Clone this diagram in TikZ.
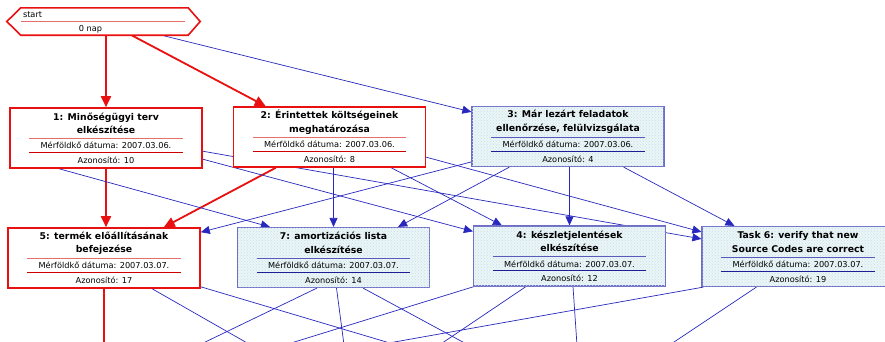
\documentclass[tikz,border=0pt]{standalone}
\usepackage{fontspec}
\setmainfont{DejaVu Sans}
\usetikzlibrary{arrows.meta, calc, backgrounds, patterns}

\definecolor{critred}{RGB}{232,16,16}
\definecolor{sepredA}{RGB}{232,110,110}
\definecolor{sepredB}{RGB}{205,0,0}
\definecolor{normline}{RGB}{110,110,200}
\definecolor{sepblueA}{RGB}{90,90,190}
\definecolor{sepblueB}{RGB}{30,30,150}
\definecolor{normfill}{RGB}{234,245,247}
\definecolor{normdots}{RGB}{200,222,228}
\definecolor{depblue}{RGB}{40,40,190}

% task box: name, centre, kind (crit/norm), title, date, id
\newcommand{\taskbox}[6]{
  \node[#3box] (#1) at (#2) {};
  \node[titletext] at ($(#1.north)+(0,16)$) {#4};
  \draw[#3sepa] ($(#1.north west)+(20,31)$) -- ($(#1.north east)+(-20,31)$);
  \node[infotext] at ($(#1.north)+(0,38.5)$) {Mérföldkő dátuma: #5};
  \draw[#3sepb] ($(#1.north west)+(20,45)$) -- ($(#1.north east)+(-20,45)$);
  \node[infotext] at ($(#1.north)+(0,53)$) {Azonosító: #6};
}

\begin{document}
\begin{tikzpicture}[x=1pt, y=-1pt,
  critbox/.style={draw=critred, line width=1.6pt, fill=white, minimum width=192pt, minimum height=60pt, inner sep=0pt},
  normbox/.style={draw=normline, line width=1.2pt, fill=normfill, postaction={pattern=crosshatch dots, pattern color=normdots}, minimum width=192pt, minimum height=60pt, inner sep=0pt},
  critsepa/.style={draw=sepredA, line width=0.8pt},
  critsepb/.style={draw=sepredB, line width=0.8pt},
  normsepa/.style={draw=sepblueA, line width=0.8pt},
  normsepb/.style={draw=sepblueB, line width=0.8pt},
  titletext/.style={font=\bfseries\fontsize{9.3}{13.5}\selectfont, align=center, inner sep=0pt},
  infotext/.style={font=\fontsize{8.2}{10}\selectfont, inner sep=0pt},
  crit/.style={draw=critred, line width=1.8pt, -{Triangle[length=11pt,width=10pt]}},
  dep/.style={draw=depblue, line width=0.7pt, -{Triangle[length=9pt,width=8pt]}}]
  \useasboundingbox (0,0) rectangle (885,341);

  % Start milestone
  \node[minimum width=193pt, minimum height=27pt, inner sep=0pt] (start) at (103.5,21.5) {};
  \filldraw[draw=critred, fill=white, line width=1.6pt] (start.west) -- ($(start.north west)+(14,0)$) -- ($(start.north east)+(-12,0)$) -- (start.east) -- ($(start.south east)+(-12,0)$) -- ($(start.south west)+(14,0)$) -- cycle;
  \draw[critsepa] ($(start.west)+(14,0)$) -- ($(start.east)+(-15,0)$);
  \node[infotext, anchor=west] at ($(start.west)+(16,-7)$) {start};
  \node[infotext] at ($(start.south)+(-13,-6)$) {0 nap};

  % First row
  \taskbox{b1}{106,138}{crit}{1: Minőségügyi terv\\elkészítése}{2007.03.06.}{10}
  \taskbox{b2}{329.5,137}{crit}{2: Érintettek költségeinek\\meghatározása}{2007.03.06.}{8}
  \taskbox{b3}{568,136.5}{norm}{3: Már lezárt feladatok\\ellenőrzése, felülvizsgálata}{2007.03.06.}{4}

  % Second row
  \taskbox{b5}{104,258}{crit}{5: termék előállításának\\befejezése}{2007.03.07.}{17}
  \taskbox{b7}{333.5,257.5}{norm}{7: amortizációs lista\\elkészítése}{2007.03.07.}{14}
  \taskbox{b4}{569.5,256}{norm}{4: készletjelentések\\elkészítése}{2007.03.07.}{12}
  \taskbox{b6}{798,256.5}{norm}{Task 6: verify that new\\Source Codes are correct}{2007.03.07.}{19}

  % Ends of the links to the next row (off the page)
  \coordinate (o1) at (104,360);
  \coordinate (o2) at (277,360);
  \coordinate (o3) at (447,360);
  \coordinate (o4) at (168,360);
  \coordinate (o5) at (346,360);
  \coordinate (o6) at (496,360);
  \coordinate (o7) at (236,360);
  \coordinate (o8) at (417,360);
  \coordinate (o9) at (578,360);
  \coordinate (o10) at (293,360);
  \coordinate (o11) at (647,360);

  \begin{pgfonlayer}{background}
    \fill[white] (0,0) rectangle (885,341);
    \clip (0,0) rectangle (885,341);

    % Links from start
    \draw[crit] (start.south -| b1.north) -- (b1.north);
    \draw[crit] ($(start.south)+(28,0)$) -- ($(b2.north west)+(33,0)$);
    \draw[dep] ($(start.south)+(58,0)$) -- ($(b3.north west)+(0,6)$);

    % Links from the first row
    \draw[crit] (b1.south) -- (b1.south |- b5.north);
    \draw[crit] ($(b2.south west)+(43,0)$) -- ($(b5.north east)+(-37,0)$);
    \draw[dep] ($(b1.south west)+(50,0)$) -- ($(b7.north west)+(33,0)$);
    \draw[dep] ($(b1.north east)+(0,52)$) -- ($(b4.north west)+(0,6)$);
    \draw[dep] ($(b1.north east)+(0,44)$) -- ($(b6.north west)+(0,13)$);
    \draw[dep] (b7.north |- b2.south) -- (b7.north);
    \draw[dep] ($(b2.south east)+(-35,0)$) -- ($(b4.north west)+(29,0)$);
    \draw[dep] ($(b2.north east)+(0,51)$) -- ($(b6.north west)+(0,6)$);
    \draw[dep] ($(b3.north west)+(0,56)$) -- ($(b5.north east)+(0,5)$);
    \draw[dep] ($(b3.south west)+(38,0)$) -- ($(b7.north east)+(-32,0)$);
    \draw[dep] (b4.north |- b3.south) -- (b4.north);
    \draw[dep] ($(b3.south east)+(-41,0)$) -- ($(b6.north west)+(33,0)$);

    % Links from the second row
    \draw[crit] (b5.south) -- (o1);
    \draw[dep] ($(b5.south west)+(145,0)$) -- (o2);
    \draw[dep] ($(b5.south east)+(0,-2)$) -- (o3);
    \draw[dep] ($(b7.south west)+(80,0)$) -- (o4);
    \draw[dep] ($(b7.south)+(3,0)$) -- (o5);
    \draw[dep] ($(b7.south east)+(-67,0)$) -- (o6);
    \draw[dep] ($(b4.south west)+(1,0)$) -- (o7);
    \draw[dep] ($(b4.south west)+(53,0)$) -- (o8);
    \draw[dep] ($(b4.south)+(3.5,0)$) -- (o9);
    \draw[dep] ($(b6.south west)+(2,0)$) -- (o10);
    \draw[dep] ($(b6.south west)+(55,0)$) -- (o11);
  \end{pgfonlayer}
\end{tikzpicture}
\end{document}
